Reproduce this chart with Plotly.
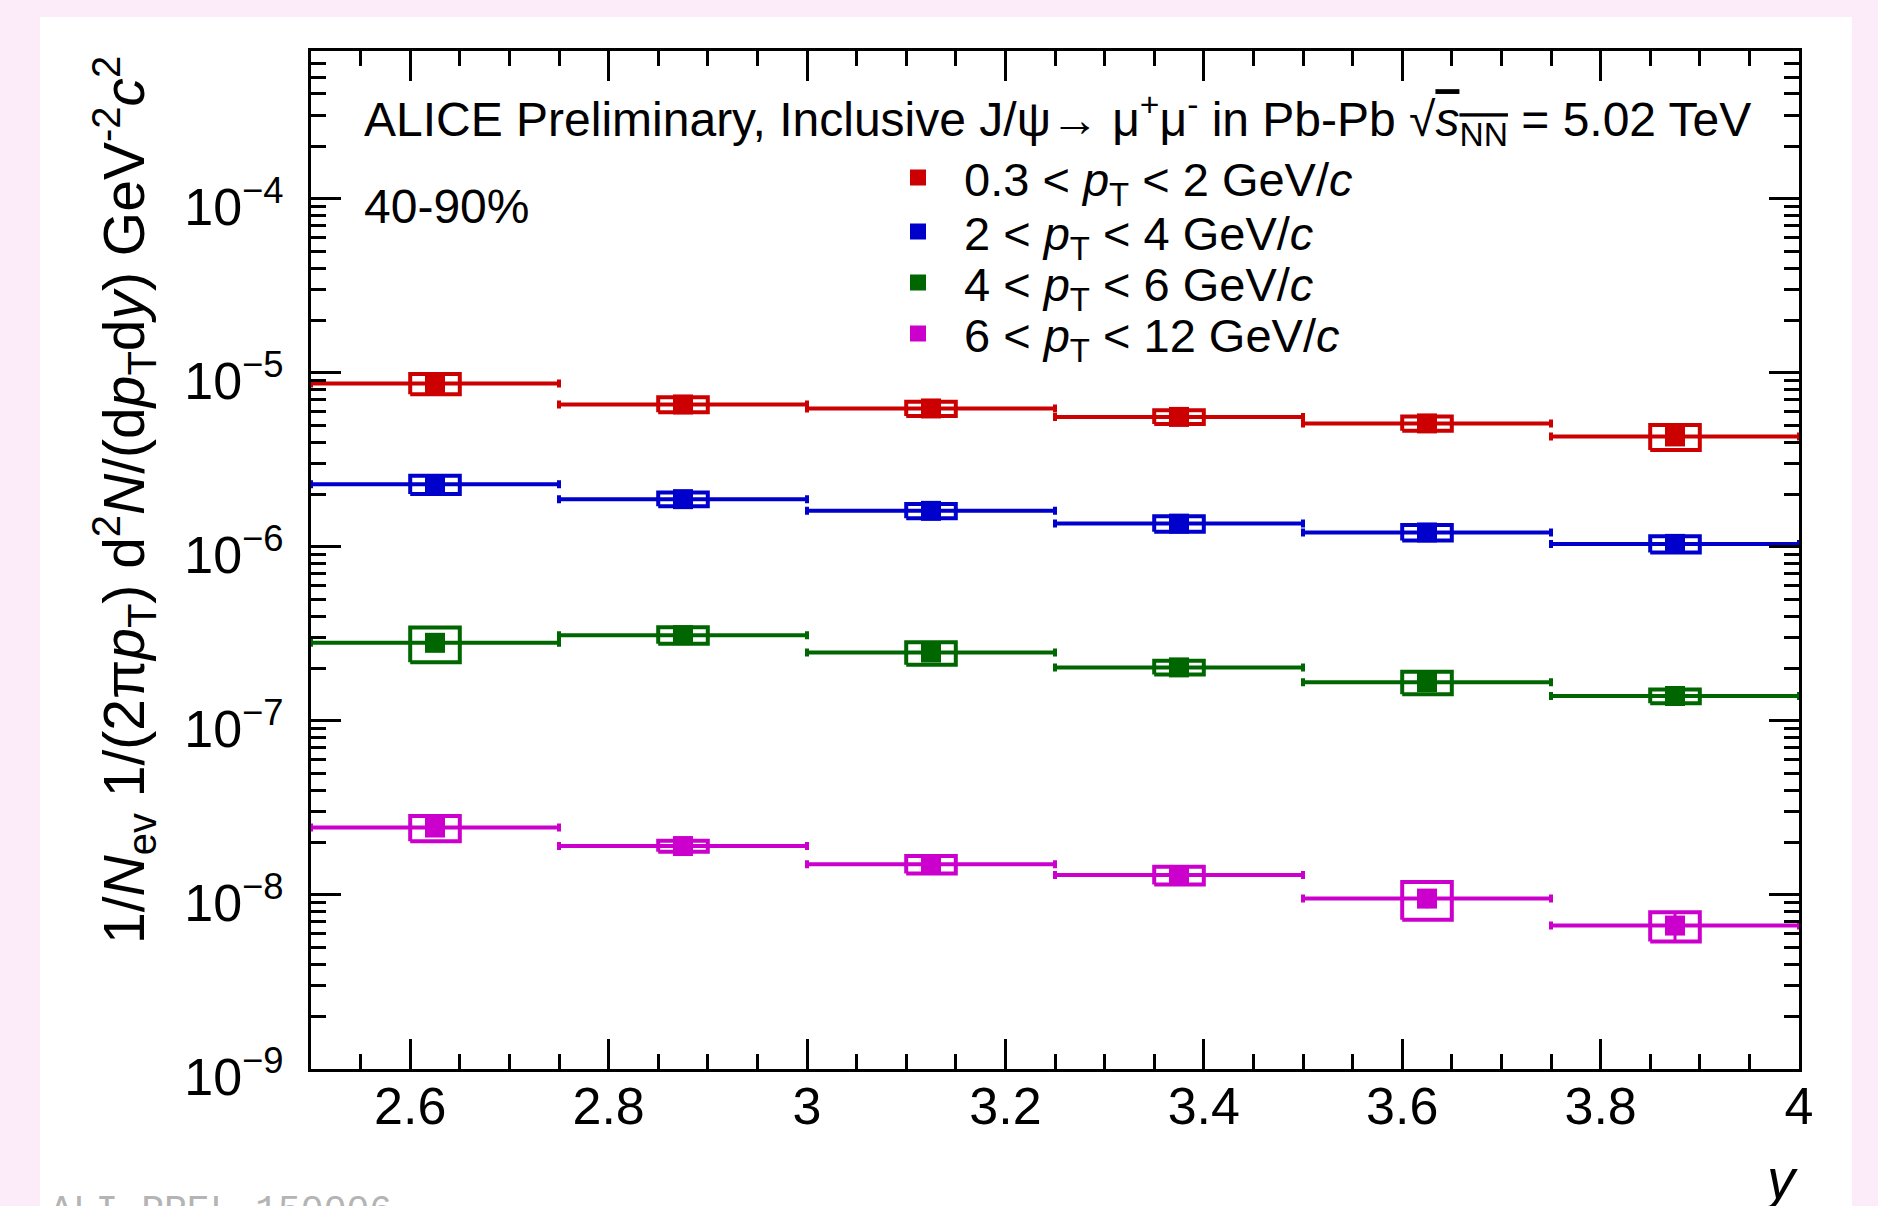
import plotly.graph_objects as go

# ---------------- data ----------------
bin_lo = [2.50, 2.75, 3.00, 3.25, 3.50, 3.75]
bin_hi = [2.75, 3.00, 3.25, 3.50, 3.75, 4.00]

series_names = [
    "0.3 &lt; <i>p</i><sub>T</sub> &lt; 2 GeV/<i>c</i>",
    "2 &lt; <i>p</i><sub>T</sub> &lt; 4 GeV/<i>c</i>",
    "4 &lt; <i>p</i><sub>T</sub> &lt; 6 GeV/<i>c</i>",
    "6 &lt; <i>p</i><sub>T</sub> &lt; 12 GeV/<i>c</i>",
]
series_colors = ["#cc0000", "#0000cc", "#006600", "#cc00cc"]

yield_pt_0p3_2 = [8.69e-6, 6.58e-6, 6.24e-6, 5.58e-6, 5.12e-6, 4.31e-6]
yield_pt_2_4 = [2.29e-6, 1.88e-6, 1.61e-6, 1.36e-6, 1.21e-6, 1.04e-6]
yield_pt_4_6 = [2.81e-7, 3.11e-7, 2.47e-7, 2.03e-7, 1.67e-7, 1.39e-7]
yield_pt_6_12 = [2.44e-8, 1.91e-8, 1.50e-8, 1.30e-8, 9.53e-9, 6.67e-9]

# relative systematic uncertainties (boxes)
syst_pt_0p3_2 = [0.134, 0.099, 0.094, 0.091, 0.094, 0.164]
syst_pt_2_4 = [0.120, 0.091, 0.094, 0.102, 0.102, 0.107]
syst_pt_4_6 = [0.226, 0.109, 0.148, 0.091, 0.148, 0.090]
syst_pt_6_12 = [0.165, 0.072, 0.115, 0.117, 0.245, 0.191]

# relative statistical uncertainties (vertical bars)
stat_pt_0p3_2 = [0.03, 0.03, 0.03, 0.03, 0.04, 0.06]
stat_pt_2_4 = [0.04, 0.04, 0.04, 0.04, 0.05, 0.05]
stat_pt_4_6 = [0.06, 0.05, 0.06, 0.06, 0.07, 0.07]
stat_pt_6_12 = [0.08, 0.06, 0.08, 0.09, 0.12, 0.18]

yields = [yield_pt_0p3_2, yield_pt_2_4, yield_pt_4_6, yield_pt_6_12]
systs = [syst_pt_0p3_2, syst_pt_2_4, syst_pt_4_6, syst_pt_6_12]
stats = [stat_pt_0p3_2, stat_pt_2_4, stat_pt_4_6, stat_pt_6_12]

x_tickvals = [2.6, 2.8, 3.0, 3.2, 3.4, 3.6, 3.8, 4.0]
x_ticktext = ["2.6", "2.8", "3", "3.2", "3.4", "3.6", "3.8", "4"]
y_tickvals = [1e-9, 1e-8, 1e-7, 1e-6, 1e-5, 1e-4]
y_ticktext = ["10<sup>\u22129</sup>", "10<sup>\u22128</sup>", "10<sup>\u22127</sup>",
              "10<sup>\u22126</sup>", "10<sup>\u22125</sup>", "10<sup>\u22124</sup>"]

# ---------------- style ----------------
FONT = "Liberation Sans, Arial, Helvetica, sans-serif"
BOX_HALF = 0.025
W, H = 1878, 1206
L, R, T, B = 311, 79, 51, 137
PW, PH = W - L - R, H - T - B
LEGEND_ROWS_PX = [178, 232, 283, 334]


def px_x(p):
    return (p - L) / PW


def px_y(p):
    return (H - B - p) / PH


fig = go.Figure()

xc = [(a + b) / 2 for a, b in zip(bin_lo, bin_hi)]
xhw = [(b - a) / 2 for a, b in zip(bin_lo, bin_hi)]
legend_ids = ["legend", "legend2", "legend3", "legend4"]

for name, col, vals, syst, stat, lid in zip(series_names, series_colors, yields, systs, stats, legend_ids):
    # horizontal bin-width bars
    fig.add_trace(go.Scatter(
        x=xc, y=vals, mode="markers",
        marker=dict(size=1, opacity=0, color=col),
        error_x=dict(type="data", array=xhw, color=col, thickness=4, width=4),
        showlegend=False, hoverinfo="skip"))
    # systematic boxes
    bx, by = [], []
    for x, v, s in zip(xc, vals, syst):
        lo, hi = v * (1 - s), v * (1 + s)
        bx += [x - BOX_HALF, x + BOX_HALF, x + BOX_HALF, x - BOX_HALF, x - BOX_HALF, None]
        by += [lo, lo, hi, hi, lo, None]
    fig.add_trace(go.Scatter(
        x=bx, y=by, mode="lines", line=dict(color=col, width=4),
        showlegend=False, hoverinfo="skip"))
    # markers with stat errors
    fig.add_trace(go.Scatter(
        x=xc, y=vals, mode="markers", name=name, legend=lid, showlegend=True,
        marker=dict(symbol="square", size=20, color=col, line=dict(width=0)),
        error_y=dict(type="data", array=[v * s for v, s in zip(vals, stat)],
                     color=col, thickness=3, width=0)))

axis_common = dict(
    showline=True, linewidth=3, linecolor="black", mirror="ticks",
    ticks="inside", ticklen=30, tickwidth=3, tickcolor="black",
    showgrid=False, zeroline=False,
    tickfont=dict(family=FONT, size=52, color="black"),
)

legends = {}
for lid, ypx in zip(legend_ids, LEGEND_ROWS_PX):
    legends[lid] = dict(
        x=px_x(872), y=px_y(ypx), xanchor="left", yanchor="middle",
        bgcolor="rgba(0,0,0,0)", borderwidth=0,
        font=dict(family=FONT, size=47, color="black"),
        itemwidth=82,
    )

fig.update_layout(
    width=W, height=H,
    margin=dict(l=L, r=R, t=T, b=B, pad=0),
    paper_bgcolor="#fcebf8", plot_bgcolor="white",
    font=dict(family=FONT, color="black"),
    showlegend=True,
    **legends,
    xaxis=dict(
        range=[2.5, 4.0], tickmode="array", tickvals=x_tickvals, ticktext=x_ticktext,
        ticklabelstandoff=-10,
        minor=dict(tick0=2.5, dtick=0.05, ticks="inside", ticklen=15, tickwidth=3,
                   tickcolor="black", showgrid=False),
        **axis_common),
    yaxis=dict(
        type="log", range=[-9, -3.151], tickmode="array", tickvals=y_tickvals,
        ticktext=y_ticktext, ticklabelstandoff=14, ticklabelshift=8,
        minor=dict(dtick="D1", ticks="inside", ticklen=15, tickwidth=3,
                   tickcolor="black", showgrid=False),
        **axis_common),
    shapes=[dict(type="rect", xref="paper", yref="paper", layer="below",
                 x0=px_x(40), x1=px_x(1852), y0=px_y(1230), y1=px_y(17),
                 fillcolor="white", line=dict(width=0))],
    annotations=[
        dict(text="ALICE Preliminary, Inclusive J/\u03c8\u2192 \u03bc<sup>+</sup>\u03bc<sup>-</sup> in Pb-Pb "
                  "\u221a<span style='text-decoration:overline'><i>s</i><sub>NN</sub></span> = 5.02 TeV",
             xref="paper", yref="paper", x=px_x(362), y=px_y(120),
             xanchor="left", yanchor="middle", showarrow=False,
             font=dict(family=FONT, size=48, color="black")),
        dict(text="40-90%", xref="paper", yref="paper", x=px_x(362), y=px_y(206),
             xanchor="left", yanchor="middle", showarrow=False,
             font=dict(family=FONT, size=48, color="black")),
        dict(text="1/<i>N</i><sub>ev</sub> 1/(2\u03c0<i>p</i><sub>T</sub>) d<sup>2</sup><i>N</i>/(d<i>p</i><sub>T</sub>d<i>y</i>) GeV<sup>-2</sup><i>c</i><sup>2</sup>",
             xref="paper", yref="paper", x=px_x(124), y=px_y(54),
             xanchor="center", yanchor="top", textangle=-90, showarrow=False,
             font=dict(family=FONT, size=57, color="black")),
        dict(text="<i>y</i>", xref="paper", yref="paper", x=px_x(1800), y=px_y(1178),
             xanchor="right", yanchor="middle", showarrow=False,
             font=dict(family=FONT, size=56, color="black")),
        dict(text="ALI-PREL-150006", xref="paper", yref="paper", x=px_x(48), y=px_y(1188),
             xanchor="left", yanchor="top", showarrow=False,
             font=dict(family="Liberation Mono, Courier New, monospace", size=38, color="#b4b4b4")),
    ],
)

fig.write_html("out.html", config={"displayModeBar": False},
               post_script="document.body.style.margin='0';document.body.style.overflow='hidden';")
